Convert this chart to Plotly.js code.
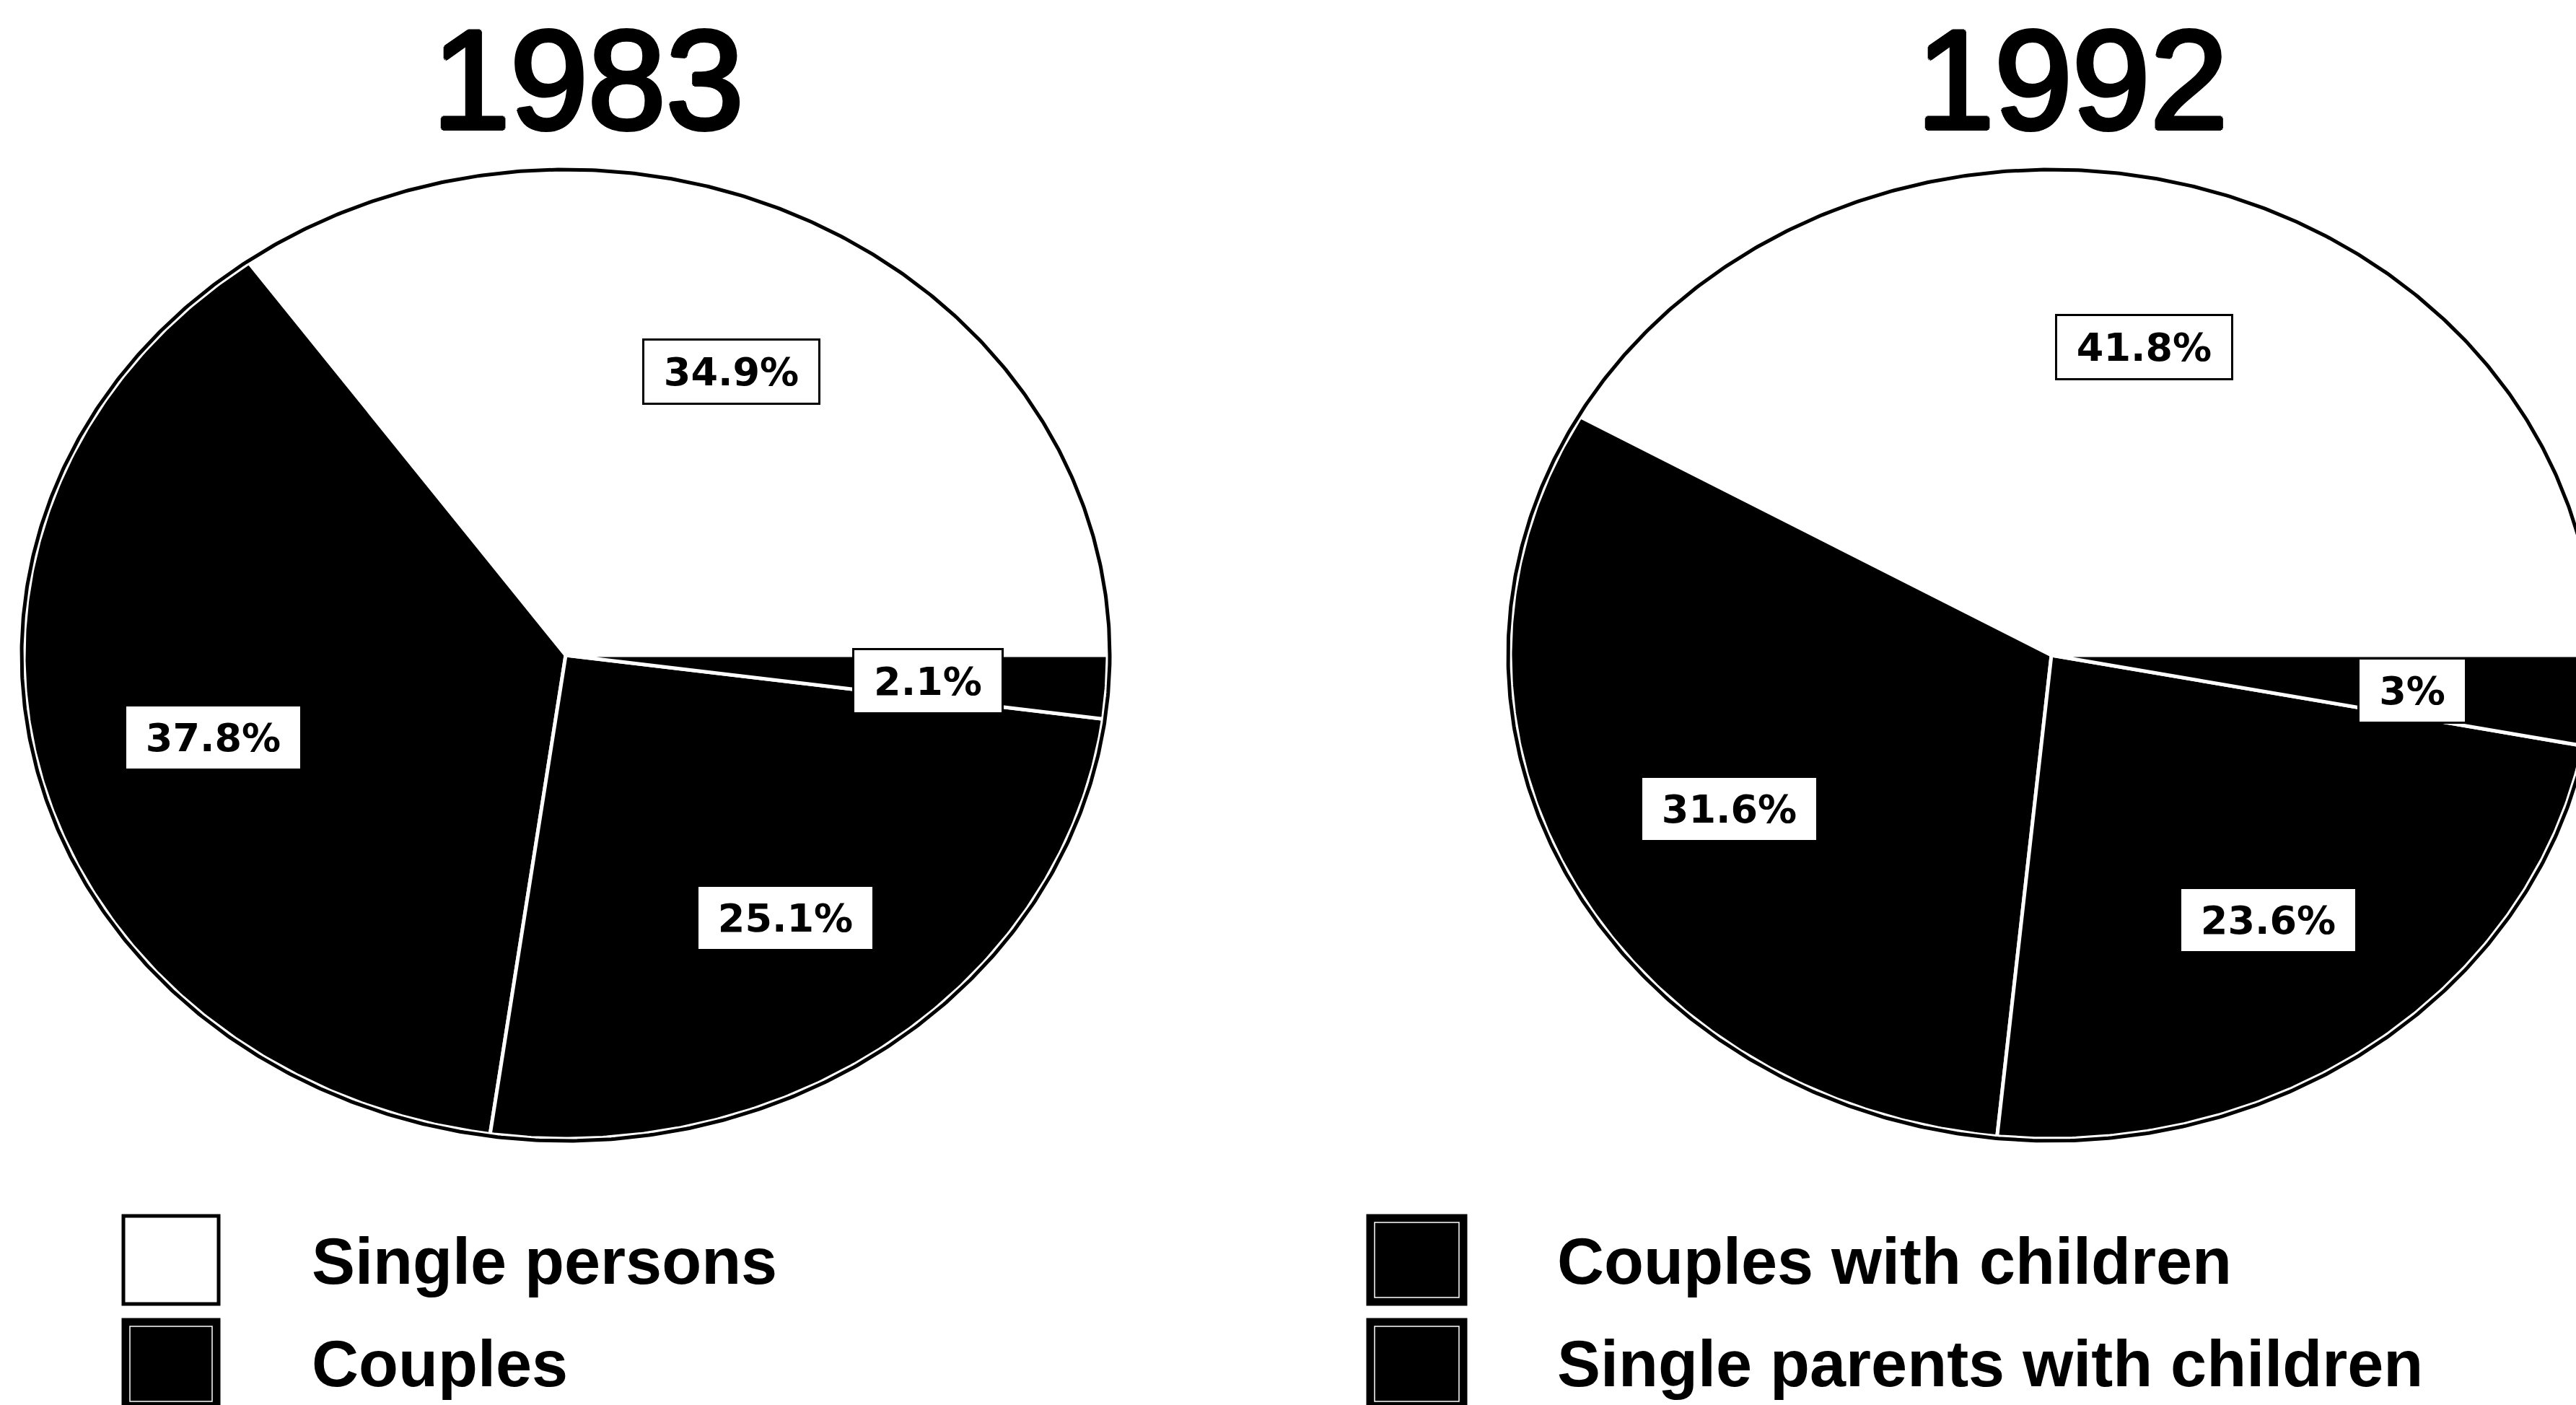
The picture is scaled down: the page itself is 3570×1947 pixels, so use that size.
<!DOCTYPE html>
<html>
<head>
<meta charset="utf-8">
<script src="https://cdn.plot.ly/plotly-3.0.1.min.js"></script>
<style>
  html, body { margin: 0; padding: 0; background: #ffffff; }
  #chart { width: 3570px; height: 1947px; }
</style>
</head>
<body>
<div id="chart"></div>
<script>
// Household composition: share of households by type, 1983 and 1992
const categories = ['Single persons', 'Couples', 'Couples with children', 'Single parents with children'];
const years = ['1983', '1992'];
const shares1983 = [34.9, 37.8, 25.1, 2.1];
const shares1992 = [41.8, 31.6, 23.6, 3];
const sliceColors = ['#ffffff', '#000000', '#000000', '#000000'];

// ---- page geometry (pixels) ----
const W = 3570, H = 1947;
const PAD = 22;                       // room around each ellipse for its outline
const pies = [
  { year: years[0], shares: shares1983, cx: 784,  cy: 908, a: 751, b: 670, titleX: 815,  xa: 'x',  ya: 'y'  },
  { year: years[1], shares: shares1992, cx: 2843, cy: 908, a: 750, b: 670, titleX: 2872, xa: 'x2', ya: 'y2' }
];
const LABEL_R = 0.67;                 // label distance from centre, as a fraction of the radius
const labelFont = { family: 'DejaVu Sans, Liberation Sans, sans-serif', size: 54, color: '#000000', weight: 'bold' };
// heavier strokes for the year headings
const headingShadow = '3px 0 0 #000, -3px 0 0 #000, 0 3px 0 #000, 0 -3px 0 #000, ' +
                      '2px 2px 0 #000, -2px -2px 0 #000, 2px -2px 0 #000, -2px 2px 0 #000';

// text width helper so each value box hugs its label
const measureCtx = document.createElement('canvas').getContext('2d');
function textWidth(txt, font) {
  measureCtx.font = 'bold ' + font.size + 'px "DejaVu Sans", "Liberation Sans", sans-serif';
  return measureCtx.measureText(txt).width;
}

function arc(a0, a1, rx, ry) {
  const xs = [], ys = [];
  const n = Math.max(2, Math.ceil(Math.abs(a1 - a0) / 0.4));
  for (let i = 0; i <= n; i++) {
    const t = (a0 + (a1 - a0) * i / n) * Math.PI / 180;
    xs.push(rx * Math.cos(t));
    ys.push(ry * Math.sin(t));
  }
  return { xs, ys };
}

const traces = [];
const annotations = [];
const layout = {
  width: W, height: H,
  margin: { l: 0, r: 0, t: 0, b: 0, pad: 0 },
  paper_bgcolor: '#ffffff', plot_bgcolor: 'rgba(0,0,0,0)',
  showlegend: false,
  dragmode: false,
  hovermode: false,
  annotations: annotations,
  shapes: []
};

pies.forEach((p, k) => {
  const total = p.shares.reduce((s, v) => s + v, 0);
  const sfx = k === 0 ? '' : String(k + 1);
  const yB = H - p.cy;                // centre measured from the bottom
  const xLeft = p.cx - p.a - PAD;
  const xRight = Math.min(W, p.cx + p.a + PAD);
  layout['xaxis' + sfx] = {
    domain: [Math.max(0, xLeft) / W, xRight / W],
    range: [(Math.max(0, xLeft) - p.cx) / p.a, (xRight - p.cx) / p.a],
    visible: false, fixedrange: true
  };
  layout['yaxis' + sfx] = {
    domain: [(yB - p.b - PAD) / H, (yB + p.b + PAD) / H],
    range: [-(p.b + PAD) / p.b, (p.b + PAD) / p.b],
    visible: false, fixedrange: true
  };

  // slices, counter-clockwise from three o'clock
  let start = 0;
  p.shares.forEach((v, i) => {
    const sweep = v / total * 360;
    const edge = arc(start, start + sweep, 1, 1);
    traces.push({
      type: 'scatter', mode: 'lines',
      x: [0].concat(edge.xs, [0]),
      y: [0].concat(edge.ys, [0]),
      fill: 'toself', fillcolor: sliceColors[i],
      line: { color: '#ffffff', width: 5 },
      xaxis: p.xa, yaxis: p.ya,
      name: categories[i], hoverinfo: 'skip'
    });
    const mid = (start + sweep / 2) * Math.PI / 180;
    const txt = v + '%';
    annotations.push({
      xref: p.xa, yref: p.ya,
      x: LABEL_R * Math.cos(mid), y: LABEL_R * Math.sin(mid) - 0.01,
      text: txt, showarrow: false,
      font: labelFont,
      bgcolor: '#ffffff', bordercolor: '#000000', borderwidth: 3, borderpad: 3,
      width: Math.round(textWidth(txt, labelFont) + 48), height: 80,
      align: 'center', valign: 'middle'
    });
    start += sweep;
  });

  // outer rim of the pie
  const rim = arc(0, 360, 1 + 3 / p.a, 1 + 3 / p.b);
  traces.push({
    type: 'scatter', mode: 'lines', x: rim.xs, y: rim.ys,
    line: { color: '#000000', width: 5 },
    xaxis: p.xa, yaxis: p.ya, hoverinfo: 'skip'
  });

  // year heading
  annotations.push({
    xref: 'paper', yref: 'paper',
    x: p.titleX / W, y: 1 - 110 / H,
    xanchor: 'center', yanchor: 'middle',
    text: p.year, showarrow: false,
    font: { family: 'Liberation Sans, Arial, sans-serif', size: 194, color: '#000000', shadow: headingShadow }
  });
});

// ---- key: two columns of two entries ----
const keyCols = [{ box: [171, 303], text: 430 }, { box: [1896, 2031], text: 2156 }];
const keyRows = [{ top: 1685, bottom: 1807, mid: 1748 }, { top: 1829, bottom: 1951, mid: 1890 }];
const px = v => v / W, py = v => 1 - v / H;
categories.forEach((name, i) => {
  const col = keyCols[Math.floor(i / 2)], row = keyRows[i % 2];
  layout.shapes.push({
    type: 'rect', xref: 'paper', yref: 'paper',
    x0: px(col.box[0]), x1: px(col.box[1]), y0: py(row.bottom), y1: py(row.top),
    fillcolor: sliceColors[i], line: { color: '#000000', width: 5 }
  });
  if (sliceColors[i] !== '#ffffff') {
    layout.shapes.push({
      type: 'rect', xref: 'paper', yref: 'paper',
      x0: px(col.box[0] + 9), x1: px(col.box[1] - 9), y0: py(row.bottom - 9), y1: py(row.top + 9),
      fillcolor: 'rgba(0,0,0,0)', line: { color: '#ffffff', width: 1.5 }
    });
  }
  annotations.push({
    xref: 'paper', yref: 'paper',
    x: px(col.text), y: py(row.mid),
    xanchor: 'left', yanchor: 'middle',
    text: name, showarrow: false,
    font: { family: 'Liberation Sans, Arial, sans-serif', size: 90, color: '#000000', weight: 'bold' }
  });
});

Plotly.newPlot('chart', traces, layout, { staticPlot: true, displayModeBar: false });
</script>
</body>
</html>
